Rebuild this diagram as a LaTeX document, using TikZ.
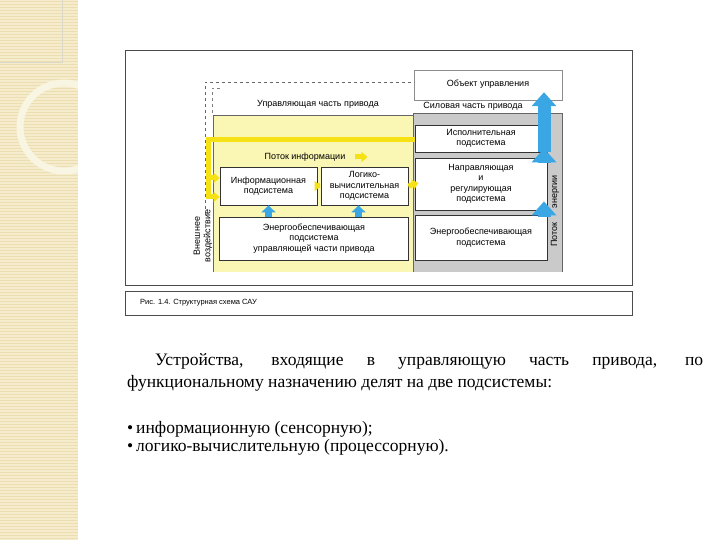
\documentclass[tikz,border=0pt]{standalone}
\usepackage{fontspec}
\setmainfont{Liberation Serif}
\newfontfamily\diagfont{Liberation Sans}
\usetikzlibrary{arrows.meta}
\definecolor{paleyellow}{RGB}{250,246,180}
\definecolor{flowyellow}{RGB}{246,226,20}
\definecolor{powergray}{RGB}{202,202,202}
\definecolor{flowblue}{RGB}{58,166,228}
\definecolor{stripbeige}{RGB}{245,236,204}
\definecolor{stripline}{RGB}{236,222,178}
\tikzset{
  subsys/.style={draw=black!80, line width=0.8pt, fill=white, align=center,
    inner sep=0pt, font=\diagfont\fontsize{9}{10.5}\selectfont},
  label/.style={inner sep=0pt, font=\diagfont\fontsize{9}{10.5}\selectfont},
  infoarrow/.style={flowyellow, line width=5pt, -{Triangle[width=10pt,length=6pt]}},
  infobar/.style={flowyellow, line width=5pt},
  energyarrow/.style={flowblue, line width=7pt, -{Triangle[width=14pt,length=7pt]}},
  bigenergy/.style={flowblue, line width=13pt, -{Triangle[width=24pt,length=14pt]}},
  bodytext/.style={anchor=base west, inner sep=0pt, font=\fontsize{17.5}{19}\selectfont}
}
\begin{document}
\begin{tikzpicture}[x=1pt,y=-1pt]
\useasboundingbox (0,0) rectangle (720,540);
% left strip
\fill[stripbeige] (0,0) rectangle (78,540);
\foreach \yy in {1,4,...,540} \draw[stripline, line width=0.8pt] (0,\yy) -- (78,\yy);
\begin{scope}
\clip (0,0) rectangle (78,540);
\draw[white!45!stripbeige, line width=7pt] (64,127) circle (44);
\draw[stripline!70!black!40, line width=0.4pt] (0,62) -- (62,62) -- (62,0);
\end{scope}
% figure frame
\draw[black!70, line width=0.7pt] (125,50) rectangle (632,285);
\draw[black!70, line width=0.7pt] (125,291) rectangle (632,315);
\node[anchor=west, inner sep=0pt, font=\diagfont\fontsize{7.5}{9}\selectfont] (caption) at (140,303) {Рис. 1.4. Структурная схема САУ};
% control part
\fill[paleyellow] (213,115) rectangle (413,272);
\draw[black!60, line width=0.5pt] (213,272) -- (213,115) -- (413,115);
\draw[black!60, dashed, line width=0.5pt] (205,215) -- (205,82) -- (414,82);
\draw[black!50, dashed, line width=0.5pt] (212,113) -- (212,88) -- (222,88);
% power part
\fill[powergray] (413,113) rectangle (562,272);
\draw[black!60, line width=0.5pt] (413,272) -- (413,113) -- (562,113) -- (562,272);
% subsystems
\node[subsys, minimum width=148pt, minimum height=30pt, draw=black!45, line width=0.5pt] (plant) at (488,85) {};
\node[label] (planttext) at (488,84) {Объект управления};
\node[label] (ctrltitle) at (318,104) {Управляющая часть привода};
\node[label] (powtitle) at (473,106) {Силовая часть привода};
\node[label] (infotitle) at (305,157) {Поток информации};
\node[subsys, minimum width=97pt, minimum height=38pt] (info) at (268.5,186) {Информационная\\подсистема};
\node[subsys, minimum width=87pt, minimum height=38pt] (logic) at (364.5,186) {Логико-\\вычислительная\\подсистема};
\node[subsys, minimum width=189pt, minimum height=43pt] (ctrlpow) at (314,238.5) {Энергообеспечивающая\\подсистема\\управляющей части привода};
\node[subsys, minimum width=132pt, minimum height=27pt] (exec) at (481,138.5) {Исполнительная\\подсистема};
\node[subsys, minimum width=132pt, minimum height=52pt] (guide) at (481,184) {Направляющая\\и\\регулирующая\\подсистема};
\node[subsys, minimum width=132pt, minimum height=45pt] (powsup) at (481,237.5) {Энергообеспечивающая\\подсистема};
\node[label, rotate=90, align=center] (extlabel) at (203,236) {Внешнее\\воздействие};
\node[label, rotate=90] (energylabel) at (555,211) {Поток\hspace{14pt}энергии};
% information flow
\coordinate (extin) at (208,199);
\coordinate (extmid) at (208,178);
\draw[infobar] (extin) |- ([yshift=-1pt]exec.west);
\draw[infoarrow] (extmid) -- (extmid -| info.west);
\draw[infoarrow] ([yshift=2pt]extin) -- ([yshift=2pt]extin -| info.west);
\draw[infoarrow, shorten <=-3pt] (info.east) -- (logic.west);
\draw[infoarrow, shorten >=-4pt] (logic.east) -- (guide.west);
\coordinate (flowtail) at ([xshift=10pt]infotitle.east);
\draw[infoarrow] (flowtail) -- ([xshift=12pt]flowtail);
% energy flow
\coordinate (riser) at (544,0);
\draw[energyarrow] (ctrlpow.north -| info) -- (info.south);
\draw[energyarrow] ([xshift=-6pt]ctrlpow.north -| logic) -- ([xshift=-6pt]logic.south);
\draw[bigenergy] (exec.south -| riser) -- ([yshift=8pt]plant.south -| riser);
\draw[bigenergy] ([yshift=-5pt]guide.north -| riser) -- ([yshift=4pt]exec.south -| riser);
\draw[bigenergy] ([yshift=-2pt]powsup.north -| riser) -- ([yshift=9pt]guide.south -| riser);
% text below
\node[bodytext] (para1) at (155,365) {\makebox[548pt][s]{Устройства, входящие в управляющую часть привода, по}};
\node[bodytext] (para2) at (127,387) {функциональному назначению делят на две подсистемы:};
\node[bodytext] (item1) at (127,433) {•\,информационную (сенсорную);};
\node[bodytext] (item2) at (127,451) {•\,логико-вычислительную (процессорную).};
\end{tikzpicture}
\end{document}
